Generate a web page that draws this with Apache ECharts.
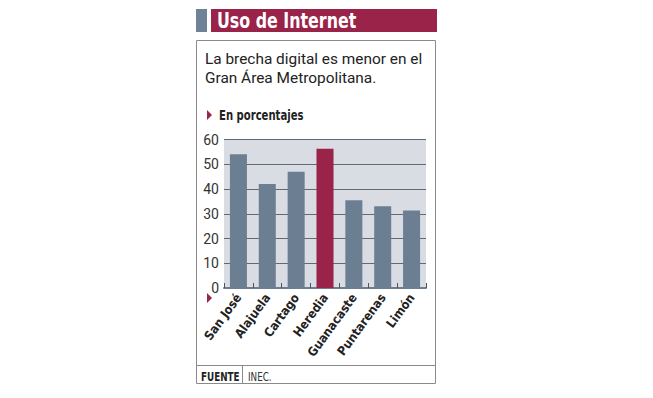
<!DOCTYPE html>
<html><head><meta charset="utf-8">
<script src="https://cdn.jsdelivr.net/npm/echarts@6/dist/echarts.min.js"></script>
<style>html,body{margin:0;padding:0;background:#fff}#c{width:653px;height:398px}</style>
</head><body><div id="c"></div>
<script>
const categories = ['San José','Alajuela','Cartago','Heredia','Guanacaste','Puntarenas','Limón'];
const values = [54, 42, 47, 56.3, 35.5, 33, 31.3];
const highlight = 'Heredia';
const yTicks = [0, 10, 20, 30, 40, 50, 60];

const SLATE = '#6c7f92', CRIMSON = '#9a2349', CND = '"DejaVu Sans Condensed",sans-serif';
const chart = echarts.init(document.getElementById('c'), null, {renderer: 'svg'});
chart.setOption({
  animation: false,
  backgroundColor: '#fff',
  grid: {left: 224, top: 139.5, width: 202, height: 148.5, containLabel: false,
         show: true, backgroundColor: '#d9dde3', borderWidth: 0},
  xAxis: {
    type: 'category', data: categories,
    axisLine: {lineStyle: {color: SLATE, width: 2}},
    axisTick: {show: true, inside: true, length: 5, lineStyle: {color: '#4a5560'}},
    axisLabel: {rotate: 54, color: '#222', fontFamily: CND, fontWeight: 'bold', fontSize: 12.5, margin: 7}
  },
  yAxis: {
    type: 'value', min: yTicks[0], max: yTicks[yTicks.length-1], interval: 10,
    axisLine: {show: false}, axisTick: {show: false},
    axisLabel: {color: '#333', fontSize: 14, fontFamily: 'Roboto, sans-serif', margin: 5,
      formatter: v => yTicks.includes(v) ? String(v) : ''},
    splitLine: {lineStyle: {color: '#5e6b77', width: 1}}
  },
  series: [{
    type: 'bar', barWidth: '59%',
    data: values.map((v, i) => ({value: v, itemStyle: {color: categories[i] === highlight ? CRIMSON : SLATE}}))
  }],
  graphic: [
    {type: 'rect', shape: {x: 196, y: 9, width: 11, height: 23}, style: {fill: '#6e8398'}},
    {type: 'rect', shape: {x: 211, y: 9, width: 226, height: 23}, style: {fill: CRIMSON}},
    {type: 'text', x: 217, y: 21, scaleX: 0.84, style: {text: 'Uso de Internet', fill: '#fff', font: 'bold 21px ' + CND, verticalAlign: 'middle'}},
    {type: 'rect', shape: {x: 196.5, y: 40.5, width: 239, height: 343}, style: {fill: 'none', stroke: '#8a8a8a', lineWidth: 1}, z: -1},
    {type: 'text', x: 205, y: 59, style: {text: 'La brecha digital es menor en el', fill: '#222', font: '15.4px Roboto, sans-serif', verticalAlign: 'middle'}},
    {type: 'text', x: 205, y: 78, style: {text: 'Gran Área Metropolitana.', fill: '#222', font: '15.4px Roboto, sans-serif', verticalAlign: 'middle'}},
    {type: 'polygon', shape: {points: [[207, 110], [212, 115], [207, 120]]}, style: {fill: CRIMSON}},
    {type: 'text', x: 219, y: 115.5, scaleX: 0.83, style: {text: 'En porcentajes', fill: '#222', font: 'bold 13.5px ' + CND, verticalAlign: 'middle'}},
    {type: 'polygon', shape: {points: [[207, 293], [212, 298], [207, 303]]}, style: {fill: CRIMSON}},
    {type: 'line', shape: {x1: 196, y1: 365.5, x2: 436, y2: 365.5}, style: {stroke: '#8a8a8a', lineWidth: 1}},
    {type: 'line', shape: {x1: 242.5, y1: 365, x2: 242.5, y2: 384}, style: {stroke: '#8a8a8a', lineWidth: 1}},
    {type: 'text', x: 201, y: 377, scaleX: 0.85, style: {text: 'FUENTE', fill: '#222', font: 'bold 11.5px ' + CND, verticalAlign: 'middle'}},
    {type: 'text', x: 248, y: 377, scaleX: 0.85, style: {text: 'INEC.', fill: '#333', font: '11.5px ' + CND, verticalAlign: 'middle'}}
  ]
});
</script></body></html>
